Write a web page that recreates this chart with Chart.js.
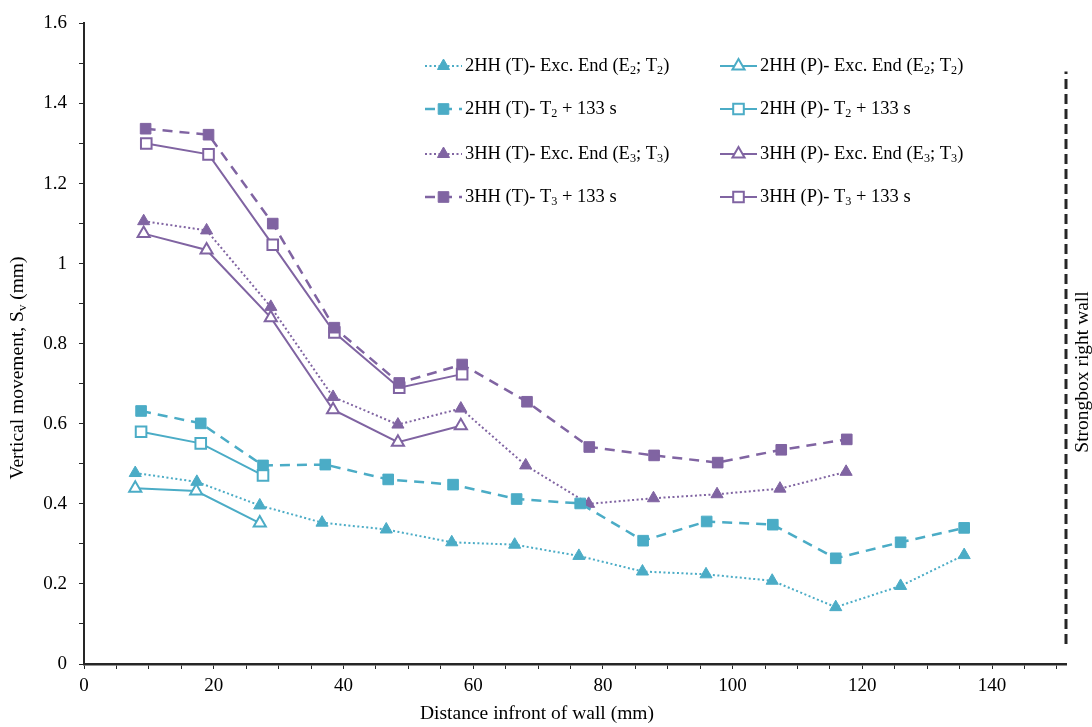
<!DOCTYPE html>
<html>
<head>
<meta charset="utf-8">
<script src="https://cdn.jsdelivr.net/npm/chart.js@4.4.0/dist/chart.umd.min.js"></script>
<style>
  html, body { margin: 0; padding: 0; background: #fff; }
  #wrap { width: 1092px; height: 727px; }
</style>
</head>
<body>
<div id="wrap"><canvas id="chart" width="1092" height="727"></canvas></div>
<script>
// colours
const TEAL = '#4BACC6';
const PURPLE = '#8064A2';
const INK = '#262626';
const FONT = '"Liberation Serif", "Times New Roman", serif';

// 2HH - end of excavation
const x2T_exc = [7.9, 17.4, 27.1, 36.7, 46.6, 56.7, 66.4, 76.3, 86.1, 95.9, 106.1, 115.9, 125.9, 135.7];
const y2T_exc = [0.477, 0.455, 0.396, 0.353, 0.336, 0.304, 0.298, 0.270, 0.231, 0.224, 0.208, 0.142, 0.195, 0.272];
const x2P_exc = [7.9, 17.3, 27.1];
const y2P_exc = [0.439, 0.432, 0.352];

// 2HH - T2 + 133 s
const x2T_133 = [8.8, 18.0, 27.6, 37.2, 46.9, 56.9, 66.7, 76.5, 86.2, 96.0, 106.2, 115.9, 125.9, 135.7];
const y2T_133 = [0.632, 0.601, 0.496, 0.498, 0.461, 0.448, 0.412, 0.401, 0.308, 0.356, 0.348, 0.264, 0.304, 0.340];
const x2P_133 = [8.8, 18.0, 27.6];
const y2P_133 = [0.580, 0.551, 0.471];

// 3HH - end of excavation
const x3T_exc = [9.2, 18.9, 28.8, 38.4, 48.4, 58.1, 68.1, 77.8, 87.8, 97.6, 107.3, 117.5];
const y3T_exc = [1.106, 1.083, 0.892, 0.667, 0.598, 0.638, 0.496, 0.400, 0.414, 0.424, 0.438, 0.480];
const x3P_exc = [9.2, 18.9, 28.8, 38.4, 48.4, 58.1];
const y3P_exc = [1.075, 1.034, 0.865, 0.635, 0.554, 0.595];

// 3HH - T3 + 133 s
const x3T_133 = [9.5, 19.2, 29.1, 38.6, 48.6, 58.3, 68.3, 77.9, 87.9, 97.7, 107.5, 117.6];
const y3T_133 = [1.337, 1.322, 1.100, 0.840, 0.702, 0.748, 0.655, 0.542, 0.521, 0.503, 0.535, 0.561];
const x3P_133 = [9.6, 19.2, 29.1, 38.6, 48.6, 58.3];
const y3P_133 = [1.300, 1.273, 1.047, 0.828, 0.690, 0.724];

// strongbox wall
const WALL_X = 151.4;
const WALL_Y = [0.05, 1.48];

const xTicks = [0, 20, 40, 60, 80, 100, 120, 140];
const yTicks = [0, 0.2, 0.4, 0.6, 0.8, 1, 1.2, 1.4, 1.6];

const xTitle = 'Distance infront of wall (mm)';
const yTitle = 'Vertical movement, S_v (mm)';
const wallLabel = 'Strongbox right wall';

const zip = (xs, ys) => xs.map((x, i) => ({ x: x, y: ys[i] }));

// line kinds
const DOT = [2, 2.5];
const DASH = [10, 7];

function series(label, xs, ys, color, dash, style, filled) {
  return {
    label: label,
    data: zip(xs, ys),
    borderColor: color,
    borderWidth: dash === DASH ? 2.5 : 2,
    borderDash: dash || [],
    backgroundColor: color,
    pointStyle: style,
    pointRadius: style === 'rect' ? 7.5 : 7,
    pointBackgroundColor: filled ? color : '#fff',
    pointBorderColor: color,
    pointBorderWidth: filled ? 1 : 2,
    tension: 0,
    fill: false
  };
}

const datasets = [
  series('2HH (T)- Exc. End (E_2; T_2)', x2T_exc, y2T_exc, TEAL, DOT, 'triangle', true),
  series('2HH (P)- Exc. End (E_2; T_2)', x2P_exc, y2P_exc, TEAL, null, 'triangle', false),
  series('2HH (T)- T_2 + 133 s', x2T_133, y2T_133, TEAL, DASH, 'rect', true),
  series('2HH (P)- T_2 + 133 s', x2P_133, y2P_133, TEAL, null, 'rect', false),
  series('3HH (T)- Exc. End (E_3; T_3)', x3T_exc, y3T_exc, PURPLE, DOT, 'triangle', true),
  series('3HH (P)- Exc. End (E_3; T_3)', x3P_exc, y3P_exc, PURPLE, null, 'triangle', false),
  series('3HH (T)- T_3 + 133 s', x3T_133, y3T_133, PURPLE, DASH, 'rect', true),
  series('3HH (P)- T_3 + 133 s', x3P_133, y3P_133, PURPLE, null, 'rect', false),
  {
    label: 'wall',
    data: [{ x: WALL_X, y: WALL_Y[0] }, { x: WALL_X, y: WALL_Y[1] }],
    borderColor: INK,
    borderWidth: 3,
    borderDash: [10, 5],
    pointRadius: 0,
    clip: false,
    fill: false
  }
];

// text with "_x" subscripts
function drawRich(ctx, text, x, y, size) {
  const parts = [];
  let buf = '';
  for (let i = 0; i < text.length; i++) {
    if (text[i] === '_') {
      if (buf) parts.push([buf, false]);
      buf = '';
      parts.push([text[i + 1], true]);
      i++;
    } else buf += text[i];
  }
  if (buf) parts.push([buf, false]);
  let cx = x;
  for (const [s, sub] of parts) {
    ctx.font = (sub ? size * 0.66 : size) + 'px ' + FONT;
    ctx.fillText(s, cx, sub ? y + size * 0.25 : y);
    cx += ctx.measureText(s).width;
  }
  return cx - x;
}

function richWidth(ctx, text, size) {
  ctx.save();
  ctx.globalAlpha = 0;
  const w = drawRich(ctx, text, 0, 0, size);
  ctx.restore();
  return w;
}

function drawRotated(ctx, text, cx, cy, size) {
  const w = richWidth(ctx, text, size);
  ctx.save();
  ctx.translate(cx, cy);
  ctx.rotate(-Math.PI / 2);
  drawRich(ctx, text, -w / 2, 0, size);
  ctx.restore();
}

// legend in two columns + axis titles + wall label
const extras = {
  id: 'extras',
  afterDraw(chart) {
    const ctx = chart.ctx;
    ctx.save();
    ctx.fillStyle = '#000';
    ctx.textBaseline = 'middle';
    ctx.textAlign = 'left';

    // legend
    const colX = [425, 720];
    const rowY = [66, 109, 154, 197];
    for (let i = 0; i < 8; i++) {
      const ds = chart.data.datasets[i];
      const x0 = colX[i % 2];
      const y0 = rowY[Math.floor(i / 2)];
      ctx.save();
      ctx.strokeStyle = ds.borderColor;
      ctx.lineWidth = ds.borderWidth;
      ctx.setLineDash(ds.borderDash);
      ctx.beginPath();
      ctx.moveTo(x0, y0);
      ctx.lineTo(x0 + 37, y0);
      ctx.stroke();
      ctx.setLineDash([]);
      ctx.fillStyle = ds.pointBackgroundColor;
      ctx.strokeStyle = ds.pointBorderColor;
      ctx.lineWidth = ds.pointBorderWidth;
      Chart.helpers.drawPoint(ctx, {
        pointStyle: ds.pointStyle,
        radius: ds.pointRadius,
        borderWidth: ds.pointBorderWidth,
        rotation: 0
      }, x0 + 18.5, y0);
      ctx.restore();
      ctx.fillStyle = '#000';
      drawRich(ctx, ds.label, x0 + 40, y0, 18.5);
    }

    // x title
    const xw = richWidth(ctx, xTitle, 19.5);
    drawRich(ctx, xTitle, 537 - xw / 2, 714, 19.5);

    // y title and wall label
    drawRotated(ctx, yTitle, 18, 368, 19.5);
    drawRotated(ctx, wallLabel, 1083, 372, 19.5);

    ctx.restore();
  }
};

new Chart(document.getElementById('chart'), {
  type: 'line',
  data: { datasets: datasets },
  plugins: [extras],
  options: {
    responsive: false,
    animation: false,
    layout: { padding: { top: 17, right: 26, bottom: 0, left: 0 } },
    plugins: {
      legend: { display: false },
      tooltip: { enabled: false }
    },
    scales: {
      x: {
        type: 'linear',
        min: 0,
        max: WALL_X,
        ticks: {
          stepSize: 5,
          includeBounds: false,
          autoSkip: false,
          maxRotation: 0,
          padding: 6,
          color: '#000',
          font: { family: FONT, size: 19 },
          callback: v => xTicks.includes(v) ? String(v) : ''
        },
        grid: { drawOnChartArea: false, drawTicks: true, tickLength: 5, tickColor: INK, tickWidth: 1 },
        border: { display: true, color: INK, width: 2.5 },
        afterFit: s => { s.height = 63; }
      },
      y: {
        type: 'linear',
        min: 0,
        max: 1.6,
        ticks: {
          stepSize: 0.1,
          autoSkip: false,
          padding: 12,
          color: '#000',
          font: { family: FONT, size: 19 },
          callback: v => {
            const t = yTicks.find(k => Math.abs(k - v) < 1e-6);
            return t === undefined ? '' : String(t);
          }
        },
        grid: { drawOnChartArea: false, drawTicks: true, tickLength: 5, tickColor: INK, tickWidth: 1 },
        border: { display: true, color: INK, width: 2 },
        afterFit: s => { s.width = 84; }
      }
    }
  }
});
</script>
</body>
</html>
